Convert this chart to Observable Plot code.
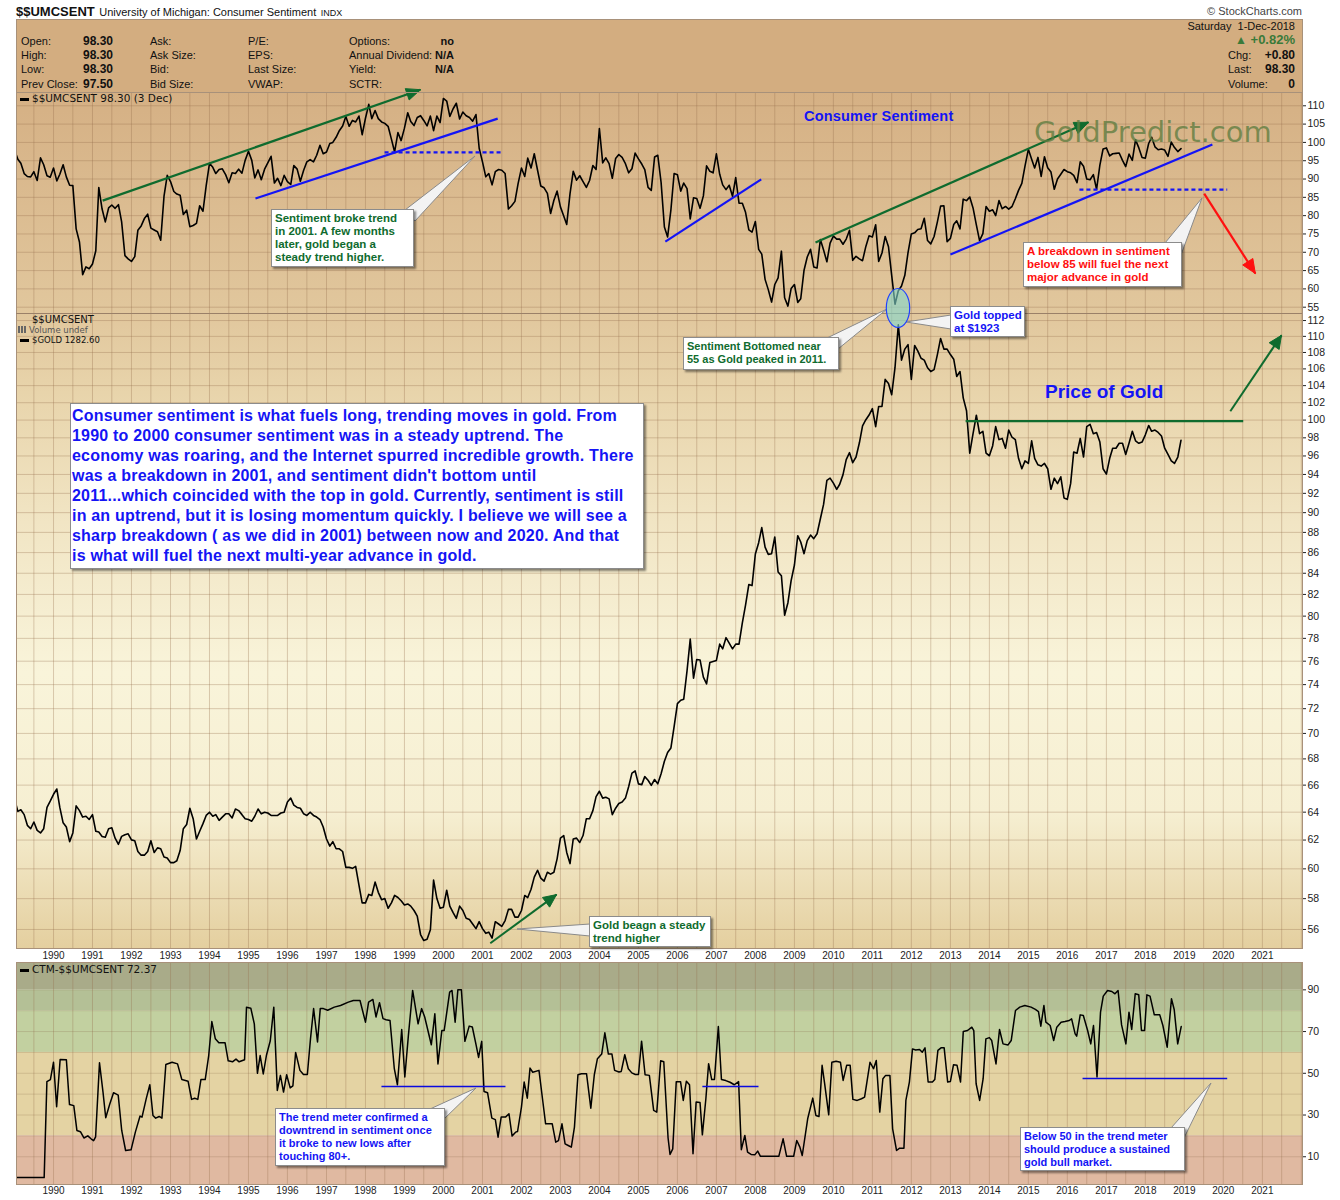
<!DOCTYPE html>
<html><head><meta charset="utf-8">
<script src="https://cdn.jsdelivr.net/npm/d3@7"></script>
<script src="https://cdn.jsdelivr.net/npm/@observablehq/plot@0.6"></script>
<style>
html,body{margin:0;padding:0;background:#fff;}
#wrap{position:relative;width:1340px;height:1200px;overflow:hidden;font-family:"Liberation Sans",Arial,sans-serif;color:#111;}
.a{position:absolute;white-space:nowrap;}
.hd{font-size:11px;line-height:14px;}
.b{font-weight:bold;}
.box{position:absolute;background:#fff;border:1px solid #8c8c8c;box-shadow:2px 2px 2px rgba(0,0,0,.45);font-weight:bold;font-size:11.5px;line-height:13px;padding:2px 3px;box-sizing:border-box;white-space:nowrap;}
.lg{font-family:"DejaVu Sans",Verdana,sans-serif;color:#111;}
.dash{display:inline-block;width:9px;height:3px;background:#000;vertical-align:middle;margin-right:3px;}
.pl svg{max-width:none !important;display:block;}
</style></head>
<body><div id="wrap"></div>
<script>
// ---------------- DATA ----------------
const sentimentStartYear = 1989; // monthly, Jan 1989 .. Dec 2018
const sentiment = [
97.9,95.4,94.3,91.5,90.7,90.6,92.0,89.6,95.8,93.9,90.9,90.5,
93.0,89.5,91.3,93.9,90.6,88.3,88.2,76.4,72.8,63.9,66.0,65.5,
66.8,70.4,87.7,81.8,78.3,82.1,82.9,82.0,83.0,78.3,69.1,68.2,
67.5,68.8,76.0,77.2,79.2,80.4,76.6,76.1,75.6,73.3,85.3,91.0,
89.3,86.6,85.9,85.6,80.3,81.5,77.0,77.3,77.9,82.7,81.2,88.2,
94.3,93.2,91.5,92.6,92.8,91.2,89.0,91.7,91.5,92.7,91.6,95.1,
97.6,95.1,90.3,92.5,89.8,92.7,94.4,96.2,88.9,90.2,88.2,91.0,
89.3,88.5,93.7,92.7,89.4,92.4,94.7,95.3,94.7,96.5,99.2,96.9,
97.4,99.7,100.0,101.4,103.2,104.5,107.1,104.4,106.0,105.6,107.2,102.1,
106.6,110.4,106.5,108.7,106.5,105.6,105.2,104.4,100.9,97.4,102.7,100.5,
103.9,108.1,105.7,104.6,106.8,107.3,106.0,104.5,107.2,103.2,107.2,105.4,
112.0,111.3,107.1,109.2,110.7,106.4,108.3,107.3,106.8,105.8,107.6,98.4,
94.7,90.6,91.5,88.4,92.0,92.6,92.4,91.5,81.8,82.7,83.9,88.8,
93.0,90.7,95.7,93.0,96.9,92.4,88.1,87.6,86.1,80.6,84.2,86.7,
82.4,79.9,77.6,86.0,92.1,89.7,90.9,89.3,87.7,89.6,93.7,92.6,
103.8,94.4,95.8,94.2,90.2,95.6,96.7,95.9,94.2,91.7,92.8,97.1,
95.5,94.1,92.6,87.7,86.9,96.0,96.5,89.1,76.9,74.2,81.6,91.5,
91.2,86.7,88.9,87.4,79.1,84.9,84.7,82.0,85.4,93.6,92.1,91.7,
96.9,91.3,88.4,87.1,88.3,85.3,90.4,83.4,83.4,80.9,76.1,75.5,
78.4,70.8,69.5,62.6,59.8,56.4,61.2,63.0,70.3,57.6,55.3,60.1,
61.2,56.3,57.3,65.1,68.7,70.8,66.0,65.7,73.5,70.6,67.4,72.5,
74.4,73.6,73.6,72.2,73.6,76.0,67.8,68.9,68.2,67.7,71.6,74.5,
74.2,77.5,67.5,69.8,74.3,71.5,63.7,55.8,59.5,60.8,63.7,69.9,
75.0,75.3,76.2,76.4,79.3,73.2,72.3,74.3,78.3,82.6,82.7,72.9,
73.8,77.6,78.6,76.4,84.5,84.1,85.1,82.1,77.5,73.2,75.1,82.5,
81.2,81.6,80.0,84.1,81.9,82.5,81.8,82.5,84.6,86.9,88.8,93.6,
98.1,95.4,93.0,95.9,90.7,96.1,93.1,91.9,87.2,90.0,91.3,92.6,
92.0,91.7,91.0,89.0,94.7,93.5,90.0,89.8,91.2,87.2,93.8,98.2,
98.5,96.3,96.9,97.0,97.1,95.1,93.4,96.8,95.1,100.7,98.5,95.9,
95.7,99.7,101.4,98.8,98.0,98.2,97.9,96.2,100.1,98.6,97.5,98.3];

const goldStartYear = 1989; // monthly, Jan 1989 .. Dec 2018
const gold = [
404,388,390,384,371,367,375,365,362,367,393,401,
410,417,393,374,369,352,362,395,389,381,382,378,
384,364,363,358,357,367,368,356,349,358,360,361,
354,353,341,337,337,341,353,340,345,344,335,334,
329,329,331,342,367,372,392,379,355,364,373,383,
387,382,384,377,381,385,385,380,391,389,384,379,
378,376,382,391,385,387,386,383,383,383,386,387,
400,405,396,393,392,385,383,387,383,381,378,369,
355,347,352,344,344,341,324,324,323,325,306,289,
289,297,296,309,299,292,293,284,289,296,294,291,
287,288,286,282,277,261,256,257,265,311,293,284,
285,301,286,280,275,286,282,275,274,270,266,272,
266,262,263,258,272,270,268,273,283,283,276,276,
282,296,294,302,314,321,313,310,319,317,319,333,
356,359,340,328,355,356,351,359,379,379,389,407,
414,405,406,404,384,392,398,400,405,420,439,442,
424,423,434,429,422,430,424,438,456,469,476,510,
549,555,557,610,676,596,633,632,598,585,627,629,
631,665,655,679,667,655,665,665,712,754,806,803,
889,922,968,909,888,890,939,839,829,730,760,816,
858,943,924,890,928,945,934,949,996,1043,1127,1135,
1117,1095,1113,1148,1205,1232,1193,1215,1271,1343,1370,1391,
1420,1340,1430,1430,1560,1540,1485,1620,1860,1660,1720,1745,
1560,1740,1710,1670,1660,1620,1600,1610,1690,1780,1720,1720,
1690,1665,1575,1600,1470,1410,1230,1310,1390,1310,1320,1230,
1220,1260,1340,1285,1290,1250,1325,1295,1285,1210,1170,1200,
1190,1280,1210,1185,1180,1190,1170,1095,1135,1115,1140,1065,
1060,1115,1235,1230,1290,1215,1340,1350,1310,1315,1275,1170,
1150,1210,1250,1250,1270,1270,1225,1270,1320,1280,1270,1275,
1305,1345,1320,1325,1315,1300,1250,1225,1200,1190,1215,1282.6];

// CTM trend meter: [decimal year, value]
const ctmPoints = [
[1989.06,0],[1989.76,0],[1989.83,46],[1989.92,47],[1990.0,55.3],[1990.08,34],[1990.17,56.6],[1990.33,56.5],[1990.41,35],[1990.52,34.5],[1990.6,22.6],[1990.69,22],[1990.78,19],[1990.88,20],[1990.97,18.5],[1991.03,17.7],[1991.08,19.5],[1991.18,55],[1991.27,41],[1991.34,28.7],[1991.44,35],[1991.54,40.7],[1991.66,39.5],[1991.75,22.6],[1991.85,13],[1991.99,13.3],
[1992.1,21.8],[1992.22,29.5],[1992.27,29],[1992.38,38],[1992.47,44.5],[1992.55,29.8],[1992.62,28.5],[1992.71,29.3],[1992.78,28.5],[1992.88,54.2],[1993.04,55.3],[1993.18,54.5],[1993.29,47],[1993.45,46.2],[1993.54,37.5],[1993.62,38],[1993.7,37.5],[1993.78,47],[1993.89,47],[1993.98,58.5],
[1994.06,74.8],[1994.15,66.5],[1994.24,64.6],[1994.4,64.6],[1994.48,56],[1994.59,55.5],[1994.68,56.8],[1994.76,55.5],[1994.9,56.5],[1994.95,81.7],[1995.06,81.2],[1995.15,73.7],[1995.23,50],[1995.3,58.5],[1995.38,49.7],[1995.46,58.5],[1995.56,65.6],[1995.65,81.7],[1995.74,41.8],[1995.82,49],[1995.9,41],[1995.98,49.3],
[1996.07,43],[1996.14,44],[1996.21,60],[1996.32,51.4],[1996.41,49.4],[1996.51,49.4],[1996.59,66.5],[1996.67,81],[1996.77,65],[1996.84,81],[1996.92,81],[1997.03,80.2],[1997.2,81.7],[1997.36,82.5],[1997.56,84.1],[1997.69,84.9],[1997.86,84.9],
[1998.0,74.5],[1998.08,84.1],[1998.19,85.4],[1998.27,77],[1998.36,83.8],[1998.45,76.2],[1998.53,75.7],[1998.63,75.3],[1998.74,52.2],[1998.82,44.5],[1998.93,71],[1999.01,48.2],[1999.1,67.8],[1999.21,89.7],[1999.35,73.7],[1999.44,81],[1999.52,77],[1999.69,63.7],[1999.78,78.5],[1999.86,54.5],[1999.96,70.5],
[2000.02,70.5],[2000.16,88.9],[2000.22,89.7],[2000.3,74.5],[2000.37,90],[2000.46,90],[2000.55,65.3],[2000.66,72.6],[2000.74,72.2],[2000.84,63.3],[2000.9,57.6],[2000.98,65.3],[2001.04,41.3],[2001.13,40.7],[2001.24,28.5],[2001.33,27.8],[2001.4,19.4],[2001.48,29],[2001.59,29],[2001.68,30.6],[2001.76,19.9],[2001.85,21.8],[2001.9,22.1],
[2002.0,33.8],[2002.07,45.8],[2002.15,38.1],[2002.22,52.5],[2002.29,50.5],[2002.45,51.4],[2002.54,37.8],[2002.62,25.8],[2002.79,25.8],[2002.88,17],[2002.95,17.7],[2003.04,25.8],[2003.12,16.2],[2003.2,15.4],[2003.28,14.6],[2003.36,24.2],[2003.45,49.3],[2003.54,49.8],[2003.67,49.8],[2003.78,33.3],[2003.87,49.3],[2003.95,57],
[2004.06,59.3],[2004.14,69.4],[2004.23,59.2],[2004.32,59.3],[2004.39,51.4],[2004.5,50.6],[2004.56,50.9],[2004.65,58.9],[2004.74,52.2],[2004.83,50.2],[2004.92,49.4],[2005.0,49.4],[2005.08,65.4],[2005.17,49.3],[2005.28,49],[2005.39,32.2],[2005.47,31.4],[2005.57,56],[2005.65,55.5],[2005.76,19],[2005.81,11.1],[2005.88,13.8],[2005.97,46],
[2006.08,46],[2006.15,37],[2006.23,46.2],[2006.31,44.5],[2006.4,11.4],[2006.48,36.2],[2006.58,36],[2006.64,20.5],[2006.73,37.8],[2006.8,54.6],[2006.88,47],[2006.95,47],[2007.05,72.4],[2007.13,47],[2007.24,46.5],[2007.35,45.7],[2007.46,44.5],[2007.57,46],[2007.64,13.4],[2007.73,20.2],[2007.8,12.2],[2007.89,11.1],[2007.99,11],
[2008.06,12.7],[2008.13,10.2],[2008.6,10.2],[2008.71,18.6],[2008.8,10.2],[2008.98,10.2],[2009.06,17.8],[2009.14,14.6],[2009.2,10.6],[2009.34,28.2],[2009.47,38.1],[2009.55,29.8],[2009.63,29.3],[2009.71,53.8],[2009.77,45.8],[2009.88,30.1],[2009.96,55.3],
[2010.07,55.8],[2010.18,55.3],[2010.25,46.6],[2010.34,53.8],[2010.43,53.8],[2010.5,37.5],[2010.61,37],[2010.72,37.8],[2010.8,38.6],[2010.86,45.8],[2010.94,55.3],[2011.03,52.2],[2011.1,56.1],[2011.19,31.4],[2011.27,47.4],[2011.34,49],[2011.45,49],[2011.52,23.4],[2011.62,13],[2011.7,14.1],[2011.81,14.1],[2011.86,37],[2011.95,45.8],
[2012.03,61.7],[2012.11,61.2],[2012.21,61.4],[2012.28,60.1],[2012.35,62.2],[2012.43,45.8],[2012.54,45.8],[2012.6,47],[2012.68,61],[2012.76,62.2],[2012.84,62.2],[2012.93,45.8],[2013.0,46.1],[2013.08,54.1],[2013.17,53.8],[2013.26,45.8],[2013.33,70],[2013.44,70.5],[2013.55,72.1],[2013.6,70.5],[2013.66,45],[2013.75,37],[2013.84,47.4],[2013.91,66.5],
[2014.0,67.1],[2014.06,65.7],[2014.17,54.5],[2014.26,71],[2014.35,64.1],[2014.48,63.6],[2014.56,65.7],[2014.67,80.1],[2014.78,81.7],[2014.91,82.5],[2015.07,81.7],[2015.18,80.6],[2015.26,79.6],[2015.32,72.6],[2015.4,82.5],[2015.45,74.5],[2015.56,72.9],[2015.65,65.7],[2015.73,72.1],[2015.84,74.5],[2015.94,74.8],
[2016.05,75.3],[2016.11,76.1],[2016.2,68.9],[2016.24,67.8],[2016.33,78],[2016.41,77.7],[2016.52,70.5],[2016.6,64.1],[2016.67,72.9],[2016.76,48.2],[2016.85,79.3],[2016.92,87],[2017.03,89.7],[2017.14,89.2],[2017.22,88.1],[2017.3,89.7],[2017.39,73.2],[2017.5,64.1],[2017.58,79.3],[2017.65,71],[2017.74,88.1],[2017.83,87.6],[2017.9,70.5],[2017.98,70.5],
[2018.04,87.6],[2018.12,87],[2018.23,78],[2018.37,78],[2018.45,72.9],[2018.56,62.5],[2018.67,85.7],[2018.74,80.6],[2018.83,64.1],[2018.92,72.4]];

// tick labels
const yearLabels = [1990,1991,1992,1993,1994,1995,1996,1997,1998,1999,2000,2001,2002,2003,2004,2005,2006,2007,2008,2009,2010,2011,2012,2013,2014,2015,2016,2017,2018,2019,2020,2021];
const sentTicks = [55,60,65,70,75,80,85,90,95,100,105,110];
const goldAxisTicks = [56,58,60,62,64,66,68,70,72,74,76,78,80,82,84,86,88,90,92,94,96,98,100,102,104,106,108,110,112];
const ctmTicks = [10,30,50,70,90];
const ctmGrid = [10,20,30,40,50,60,70,80,90];
const ctmBandLo = [90,80,60,20,-3.3];
const ctmBandHi = [103.1,90,80,60,20];

// analyst trend lines [x1 year, y1, x2 year, y2]
const sentGreenArrows = [[1991.26,84.1,1999.41,114.4],[2009.54,72.7,2016.54,105.5]];
const sentBlueLines = [[1995.18,84.7,2001.39,106.5],[2005.69,72.9,2008.15,89.9],[2013.0,69.4,2019.72,99.4]];
const sentBlueDashed = [[1998.49,97.3,2001.49,97.3],[2016.31,87.1,2020.1,87.1]];
const sentRedArrows = [[2019.51,86.0,2020.82,64.2]];
const goldGreenLines = [[2013.39,1364,2020.51,1364]];
const goldGreenArrows = [[2020.18,1408,2021.49,1798],[2001.2,253.8,2002.9,296.8]];
const ctmBlueLines = [[1998.41,43.7,2001.59,43.7],[2006.64,43.7,2008.08,43.7],[2016.39,47.5,2020.1,47.5]];

// ---------------- STYLE / LAYOUT ----------------
const ctmBandColors = ["#a9ab89","#b4c096","#c2d0a0","#e4d3a3","#e0b9a1"];
const gridColor = "rgba(150,110,75,0.33)";
const frameColor = "#a8917a";
const GREEN = "#0f6b2e", BLUE = "#1414f5", RED = "#ff1010";
const W = 1286, RM = 38;

function dec(y){ const yr=Math.floor(y); const s=Date.UTC(yr,0,1), e=Date.UTC(yr+1,0,1); return new Date(s+(y-yr)*(e-s)); }
const X0 = dec(1989.05), X1 = dec(2022.03);
const gridDates = d3.utcMonth.every(6).range(X0, X1);
const yearDates = yearLabels.map(y => new Date(Date.UTC(y,0,1)));
function monthly(values, start){ return values.map((v,i)=>({date:new Date(Date.UTC(start+Math.floor(i/12), i%12, 1)), v})); }
function segs(arr){ return arr.map(([a,b,c,d])=>({x1:dec(a),y1:b,x2:dec(c),y2:d})); }
const xs = Plot.scale({x:{type:"utc", domain:[X0,X1], range:[0,W]}});
function heads(list, ys, len=14, half=6){
  const out=[];
  list.forEach((s,k)=>{
    const p1x=xs.apply(s.x1), p1y=ys.apply(s.y1), p2x=xs.apply(s.x2), p2y=ys.apply(s.y2);
    const dx=p2x-p1x, dy=p2y-p1y, L=Math.hypot(dx,dy), ux=dx/L, uy=dy/L;
    const bx=p2x-ux*len, by=p2y-uy*len;
    [[p2x,p2y],[bx-uy*half,by+ux*half],[bx+uy*half,by-ux*half],[p2x,p2y]].forEach(([a,b])=>out.push({x:xs.invert(a), y:ys.invert(b), k}));
  });
  return out;
}
const linkOpts = (c,w=2.2,extra={}) => Object.assign({x1:"x1",y1:"y1",x2:"x2",y2:"y2",stroke:c,strokeWidth:w}, extra);
const headOpts = c => ({x:"x",y:"y",z:"k",fill:c,stroke:c,strokeWidth:1});
const baseStyle = {background:"transparent", overflow:"visible", fontFamily:"'Liberation Sans', Arial, sans-serif", fontSize:"10.5px", color:"#222"};

const wrap = document.getElementById("wrap");
function add(html, style, cls="a"){ const d=document.createElement("div"); d.className=cls; d.innerHTML=html; Object.assign(d.style, style); wrap.appendChild(d); return d; }
function place(svg, left, top){ const d=add("",{left:left+"px",top:top+"px",width:(W+RM)+"px"},"a pl"); d.appendChild(svg); }

// ---------------- BACKGROUNDS & HEADER ----------------
add("", {left:"16px",top:"92px",width:W+"px",height:"856px",background:"linear-gradient(to bottom,#d5b084 0px,#e1c79d 221px,#e8d4ab 300px,#f1e5c4 430px,#f9f4da 580px,#f6efd2 720px,#e4cf9f 856px)"});
add("", {left:"16px",top:"19px",width:"1287px",height:"74px",background:"#d3ad80",border:"1px solid "+frameColor,boxSizing:"border-box"});
add('<span class="b" style="font-size:13px">$$UMCSENT</span> <span style="font-size:11px">University of Michigan: Consumer Sentiment</span> <span style="font-size:9px">INDX</span>', {left:"16px",top:"2px",lineHeight:"18px"});
add('&copy; StockCharts.com', {right:"38px",top:"4px",fontSize:"11px",color:"#444",lineHeight:"14px"});

const hdRows = [41,55,69,84];
const col1 = ["Open:","High:","Low:","Prev Close:"], val1 = ["98.30","98.30","98.30","97.50"];
const col2 = ["Ask:","Ask Size:","Bid:","Bid Size:"];
const col3 = ["P/E:","EPS:","Last Size:","VWAP:"];
const col4 = ["Options:","Annual Dividend:","Yield:","SCTR:"], val4 = ["no","N/A","N/A",""];
hdRows.forEach((c,i)=>{
  const t=(c-7)+"px";
  add(col1[i],{left:"21px",top:t},"a hd");
  add(val1[i],{left:"83px",top:t,fontSize:"12px"},"a hd b");
  add(col2[i],{left:"150px",top:t},"a hd");
  add(col3[i],{left:"248px",top:t},"a hd");
  add(col4[i],{left:"349px",top:t},"a hd");
  add(val4[i],{right:(1340-454)+"px",top:t},"a hd b");
});
add("Saturday&nbsp; 1-Dec-2018",{right:"45px",top:"19px"},"a hd");
add('<span style="font-size:12px">&#9650;</span> +0.82%',{right:"45px",top:"33px",color:"#3a7a3a",fontSize:"13px"},"a hd b");
[["Chg:","+0.80",55],["Last:","98.30",69],["Volume:","0",84]].forEach(([l,v,c])=>{
  add(l,{left:"1228px",top:(c-7)+"px"},"a hd");
  add(v,{right:"45px",top:(c-7)+"px",fontSize:"12px"},"a hd b");
});

// ---------------- SENTIMENT PANEL ----------------
const sentH = 221, sentDomain = [53.28,113.63];
const ysS = Plot.scale({y:{domain:sentDomain, range:[sentH,0]}});
const sG = segs(sentGreenArrows), sB = segs(sentBlueLines), sD = segs(sentBlueDashed), sR = segs(sentRedArrows);
place(Plot.plot({
  width:W+RM, height:sentH, margin:0, marginRight:RM,
  x:{type:"utc", domain:[X0,X1], axis:null},
  y:{domain:sentDomain, axis:null},
  style:baseStyle,
  marks:[
    Plot.ruleX(gridDates,{stroke:gridColor}),
    Plot.ruleY(sentTicks,{stroke:gridColor}),
    Plot.axisY(sentTicks,{anchor:"right", tickSize:3, tickPadding:2}),
    Plot.line(monthly(sentiment, sentimentStartYear),{x:"date",y:"v",stroke:"#000",strokeWidth:1.6,clip:true}),
    Plot.link(sB, linkOpts(BLUE)),
    Plot.link(sD, linkOpts(BLUE,2.2,{strokeDasharray:"4,3"})),
    Plot.link(sG, linkOpts(GREEN)),
    Plot.line(heads(sG, ysS), headOpts(GREEN)),
    Plot.link(sR, linkOpts(RED)),
    Plot.line(heads(sR, ysS), headOpts(RED)),
    Plot.frame({stroke:frameColor})
  ]
}), 16, 92);

// ---------------- GOLD PANEL ----------------
const goldH = 635, goldMB = 14;
const goldAxisDomain = [54.8,112.9], goldDomain = [249.5,1929];
place(Plot.plot({
  width:W+RM, height:goldH+goldMB, margin:0, marginRight:RM, marginBottom:goldMB,
  x:{type:"utc", domain:[X0,X1], axis:null},
  y:{type:"log", domain:goldAxisDomain, axis:null},
  style:baseStyle,
  marks:[
    Plot.ruleX(gridDates,{stroke:gridColor}),
    Plot.ruleY(goldAxisTicks,{stroke:gridColor}),
    Plot.axisY(goldAxisTicks,{anchor:"right", tickSize:3, tickPadding:2, tickFormat:d=>String(d)}),
    Plot.axisX(yearDates,{anchor:"bottom", tickSize:0, tickPadding:3, fontSize:10, tickFormat:d=>String(d.getUTCFullYear())})
  ]
}), 16, 313);
const ysG = Plot.scale({y:{type:"log", domain:goldDomain, range:[goldH,0]}});
const gL = segs(goldGreenLines), gA = segs(goldGreenArrows);
place(Plot.plot({
  width:W+RM, height:goldH+goldMB, margin:0, marginRight:RM, marginBottom:goldMB,
  x:{type:"utc", domain:[X0,X1], axis:null},
  y:{type:"log", domain:goldDomain, axis:null},
  style:baseStyle,
  marks:[
    Plot.line(monthly(gold, goldStartYear),{x:"date",y:"v",stroke:"#000",strokeWidth:1.6,clip:true}),
    Plot.link(gL, linkOpts(GREEN,2.4)),
    Plot.link(gA, linkOpts(GREEN,2)),
    Plot.line(heads(gA, ysG, 13, 6), headOpts(GREEN)),
    Plot.frame({stroke:frameColor}),
    Plot.ruleY([goldDomain[1]],{stroke:"#9a8068",strokeWidth:1.2})
  ]
}), 16, 313);

// ---------------- CTM PANEL ----------------
const ctmH = 222, ctmMB = 16, ctmDomain = [-3.3,103.1];
const bands = ctmBandLo.map((lo,i)=>({lo, hi:ctmBandHi[i], x1:X0, x2:X1, fill:ctmBandColors[i]}));
place(Plot.plot({
  width:W+RM, height:ctmH+ctmMB, margin:0, marginRight:RM, marginBottom:ctmMB,
  x:{type:"utc", domain:[X0,X1], axis:null},
  y:{domain:ctmDomain, axis:null},
  style:baseStyle,
  marks:[
    Plot.rect(bands,{x1:"x1",x2:"x2",y1:"lo",y2:"hi",fill:"fill"}),
    Plot.ruleX(gridDates,{stroke:gridColor}),
    Plot.ruleY(ctmGrid,{stroke:"rgba(130,100,70,0.22)"}),
    Plot.axisY(ctmTicks,{anchor:"right", tickSize:3, tickPadding:2}),
    Plot.axisX(yearDates,{anchor:"bottom", tickSize:0, tickPadding:2, fontSize:10, tickFormat:d=>String(d.getUTCFullYear())}),
    Plot.line(ctmPoints.map(([y,v])=>({date:dec(y), v})),{x:"date",y:"v",stroke:"#000",strokeWidth:1.5}),
    Plot.link(segs(ctmBlueLines), linkOpts("#0a0ae0",1.4)),
    Plot.frame({stroke:frameColor})
  ]
}), 16, 962);

// ---------------- LEGENDS & TITLES ----------------
add('<span class="dash"></span>$$UMCSENT 98.30 (3 Dec)',{left:"20px",top:"92px",fontSize:"10.5px",lineHeight:"13px"},"a lg");
add('$$UMCSENT',{left:"32px",top:"314px",fontSize:"10px",lineHeight:"12px"},"a lg");
add('<span style="display:inline-block;width:9px;height:7px;margin-right:2px;background:linear-gradient(to right,#666 0 2px,transparent 2px 3px,#666 3px 5px,transparent 5px 6px,#666 6px 8px,transparent 8px)"></span>Volume undef',{left:"18px",top:"325px",fontSize:"8.5px",lineHeight:"11px",color:"#555"},"a lg");
add('<span class="dash"></span>$GOLD 1282.60',{left:"20px",top:"335px",fontSize:"8.5px",lineHeight:"11px"},"a lg");
add('<span class="dash"></span>CTM-$$UMCSENT 72.37',{left:"20px",top:"963px",fontSize:"10.5px",lineHeight:"13px"},"a lg");
add('Consumer Sentiment',{left:"804px",top:"107px",fontSize:"14.5px",fontWeight:"bold",color:BLUE,letterSpacing:"0.2px",lineHeight:"18px"});
add('Price of Gold',{left:"1045px",top:"380px",fontSize:"19px",fontWeight:"bold",color:BLUE,lineHeight:"24px"});
add('GoldPredict.com',{left:"1034px",top:"114px",fontSize:"29px",fontFamily:"'DejaVu Sans',Verdana,sans-serif",color:"rgba(95,125,65,0.78)",lineHeight:"36px"});

// ---------------- CALLOUTS ----------------
const ov = document.createElementNS("http://www.w3.org/2000/svg","svg");
ov.setAttribute("width","1340"); ov.setAttribute("height","1200");
ov.setAttribute("style","position:absolute;left:0;top:0");
ov.innerHTML = `
<g fill="#f3f3f3" stroke="#8a8a8a" stroke-width="1">
 <polygon points="405,210 475,156 415,221"/>
 <polygon points="1165,243 1202,198 1181,255"/>
 <polygon points="827,338 887,309 838,349"/>
 <polygon points="951,315 906,322 951,329"/>
 <polygon points="430,1109 476,1088 444,1119"/>
 <polygon points="1171,1128 1211,1083 1184,1138"/>
 <polygon points="590,924 517,929 590,936"/>
</g>
<ellipse cx="898" cy="308" rx="11.7" ry="19.5" fill="rgba(130,215,205,0.6)" stroke="#2040ff" stroke-width="1.2"/>`;
wrap.appendChild(ov);

function box(l,t,w,h,color,html,extra={}){ return add(html, Object.assign({left:l+"px",top:t+"px",width:w+"px",height:h+"px",color}, extra), "box"); }
box(271,209,143,58,GREEN,"Sentiment broke trend<br>in 2001. A few months<br>later, gold began a<br>steady trend higher.");
box(1023,242,159,45,RED,"A breakdown in sentiment<br>below 85 will fuel the next<br>major advance in gold");
box(683,337,156,33,GREEN,"Sentiment Bottomed near<br>55 as Gold peaked in 2011.",{fontSize:"11px"});
box(950,306,75,31,BLUE,"Gold topped<br>at $1923");
box(70,403,574,166,BLUE,"Consumer sentiment is what fuels long, trending moves in gold. From<br>1990 to 2000 consumer sentiment was in a steady uptrend. The<br>economy was roaring, and the Internet spurred incredible growth. There<br>was a breakdown in 2001, and sentiment didn't bottom until<br>2011...which coincided with the top in gold. Currently, sentiment is still<br>in an uptrend, but it is losing momentum quickly. I believe we will see a<br>sharp breakdown ( as we did in 2001) between now and 2020. And that<br>is what will fuel the next multi-year advance in gold.",{fontSize:"16px",lineHeight:"20px",fontWeight:"bold",letterSpacing:"0.2px",padding:"2px 1px"});
box(589,916,122,31,GREEN,"Gold beagn a steady<br>trend higher");
box(275,1108,170,58,BLUE,"The trend meter confirmed a<br>downtrend in sentiment once<br>it broke to new lows after<br>touching 80+.",{fontSize:"11px"});
box(1020,1127,165,44,BLUE,"Below 50 in the trend meter<br>should produce a sustained<br>gold bull market.",{fontSize:"11px"});
</script></body></html>
